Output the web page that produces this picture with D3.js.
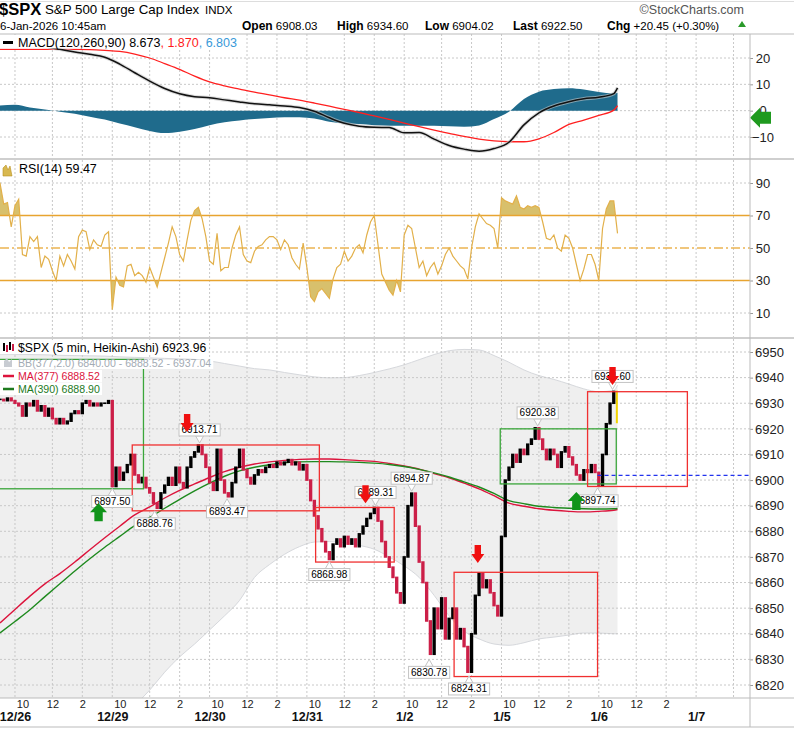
<!DOCTYPE html>
<html><head><meta charset="utf-8">
<title>$SPX 5 min</title>
<script src="https://d3js.org/d3.v7.min.js"></script>
<style>
  body { margin: 0; background: #fff; }
  svg text { font-family: "Liberation Sans", Arial, sans-serif; }
</style>
</head>
<body>
<svg id="chart" width="794" height="729"></svg>
<script>
// ---- time axis ----
const dayLabels = ["12/26", "12/29", "12/30", "12/31", "1/2", "1/5", "1/6", "1/7"];
const hourTicks = [{label: "10", bar: 6}, {label: "12", bar: 30}, {label: "2", bar: 54}];
const firstDayBar = 12, barsPerDay = 78, lastBar = 495;

// Heikin-Ashi closes, one every 15 minutes (3 bars)
const candleBars = d3.range(-3, lastBar + 1, 3);
const haClose = [6931.5,
  6931.5, 6931, 6932, 6931, 6930, 6929, 6925, 6930, 6929, 6931,
  6927, 6929, 6925, 6928, 6924, 6922, 6924, 6922, 6923, 6926,
  6927, 6926, 6930, 6931, 6929, 6930, 6929, 6930, 6930, 6931,
  6897.5, 6905, 6900, 6903, 6906, 6910, 6902, 6899, 6901, 6897,
  6895, 6891, 6889, 6895, 6898, 6901, 6898, 6905, 6899, 6897,
  6905, 6909, 6911, 6913.7, 6910, 6905, 6899, 6896, 6912, 6900,
  6895, 6893.5, 6899, 6905, 6912, 6904, 6901, 6898.5, 6902, 6904,
  6903, 6905, 6906, 6905, 6907, 6906, 6907, 6908, 6906, 6907,
  6904, 6906, 6900, 6892, 6886,
  6881, 6876, 6872, 6869,
  6875, 6877, 6874, 6878, 6875, 6877, 6874, 6879, 6882, 6885,
  6887, 6889.3, 6884, 6876, 6870, 6866, 6862, 6856, 6852, 6870,
  6890, 6894.9, 6882, 6868, 6860, 6845, 6832, 6850, 6842, 6854,
  6838, 6846, 6850, 6838, 6842, 6835, 6825, 6840, 6855, 6863.7,
  6858, 6861, 6856, 6851, 6847, 6878, 6900, 6905, 6910, 6907,
  6912, 6910, 6914, 6916, 6920.4, 6916, 6912, 6908, 6912, 6910,
  6905, 6911, 6913, 6909, 6906, 6902, 6900, 6904, 6903, 6906,
  6903, 6898, 6910, 6922, 6930, 6934.6, 6922.5];

const rsi14 = [90,
  90, 77, 78, 63, 76, 80, 46, 45, 57, 54,
  57, 38, 45, 43, 36, 30, 45, 39, 46, 42,
  37, 57, 61, 60, 49, 55, 52, 51, 58, 60,
  12, 32, 27, 26, 39, 40, 33, 35, 33, 29,
  38, 32, 26, 35, 44, 53, 63, 57, 46, 42,
  55, 67, 73, 75, 68, 57, 42, 40, 59, 36,
  38, 38, 50, 58, 63, 46, 42, 41, 48, 51,
  52, 55, 57, 57, 55, 49, 55, 52, 44, 40,
  37, 53, 38, 20, 17,
  23, 25, 22, 19,
  31, 38, 40, 48, 42, 45, 50, 52, 47, 58,
  66, 70, 52, 34, 29, 24, 21, 30, 23, 58,
  64, 62, 50, 38, 42, 33, 38, 41, 34, 39,
  46, 50, 45, 42, 39, 37, 31, 50, 63, 71,
  68, 65, 64, 62, 50, 81, 79, 78, 77, 82,
  75, 74, 76, 75, 76, 75, 66, 56, 55, 58,
  50, 48, 58, 56, 50, 40, 30, 37, 46, 46,
  40, 30, 62, 74, 79, 79, 59];

// smooth series, one per hour plus the last bar
const lineBars = d3.range(0, 493, 12).concat([lastBar]);
const macdLine = [26.8, 26, 25.2, 24.3, 23.3, 22.3, 21.4, 20.3, 17.7, 14.4, 11.2, 8.4, 6.4, 5.3, 4.9,
  4.1, 3.3, 2.6, 2.2, 1.8, 1.2, -0.2, -2.7, -4.8, -5.9, -6.3, -6.4, -8.4, -8.3, -10.8, -13.2, -14.6,
  -15.4, -14.4, -12.0, -5.4, -0.8, 1.8, 3.4, 4.5, 5.1, 6.5, 8.673];
const macdSignal = [23.3, 23.3, 23.3, 23.3, 23.3, 23.3, 23.2, 22.9, 22.5, 21.5, 20.0, 17.9, 15.7, 13.1,
  10.9, 9.4, 8.2, 7.0, 6.0, 4.9, 4.0, 2.9, 1.7, 0.5, -0.7, -2.0, -3.3, -4.7, -6.1, -7.4, -8.6, -9.8,
  -10.8, -11.5, -11.8, -11.8, -10.7, -8.3, -5.2, -3.6, -1.8, 0.2, 1.870];
const macdHist = [2.0, 2.2, 1.2, 0.4, -0.4, -1.2, -2.3, -3.4, -4.9, -6.3, -7.7, -8.5, -8.0, -7.0, -5.5,
  -4.4, -3.7, -3.2, -2.8, -2.5, -2.5, -3.0, -4.2, -4.8, -5.1, -5.5, -5.7, -5.7, -5.7, -5.7, -5.9, -6.1,
  -5.6, -3.2, -0.4, 4.4, 7.2, 8.2, 8.5, 8.0, 7.1, 6.6, 6.803];
const bbUpper = [6949.2, 6949.1, 6949, 6948.9, 6948.7, 6948.6, 6948.5, 6948.4, 6948.1, 6947.9, 6947.7,
  6947.5, 6947.3, 6947.1, 6946.5, 6945.5, 6944.5, 6943.5, 6943, 6942, 6941.1, 6940.3, 6939.9, 6940,
  6940.8, 6942, 6943.4, 6945, 6947, 6949, 6950.5, 6951, 6950.8, 6948.6, 6946, 6943, 6940.8, 6939.3,
  6937.5, 6935.6, 6934.5, 6935, 6937.04];
const bbLower = [6745, 6752, 6760, 6768, 6776, 6784, 6792, 6800, 6806, 6812, 6818, 6825, 6831, 6836,
  6841.5, 6847, 6853, 6862, 6867, 6871, 6874, 6875.8, 6876, 6875.5, 6874.5, 6873, 6870, 6866.5, 6862,
  6855, 6847, 6841, 6838, 6836, 6835.5, 6836.5, 6838, 6838.7, 6839.5, 6840.3, 6840.3, 6840, 6840.00];
const ma377 = [6844.2, 6849.5, 6854.7, 6859.5, 6863.5, 6868, 6872.8, 6877.5, 6882, 6886.4, 6889.5, 6893,
  6896, 6898.5, 6901, 6903.3, 6905, 6906.3, 6907.1, 6907.7, 6908.1, 6908.2, 6908.2, 6908, 6907.6,
  6907.3, 6906.5, 6905.5, 6904.3, 6902.5, 6900.9, 6898.8, 6896.6, 6893.9, 6891, 6889.8, 6888.8, 6888.2,
  6887.8, 6887.6, 6887.8, 6888.2, 6888.52];
const ma390 = [6840.3, 6844.8, 6849.4, 6854.5, 6859.5, 6864.5, 6869.3, 6873.8, 6878, 6882.2, 6885.4,
  6889, 6892.5, 6895.8, 6898.8, 6901.5, 6903.6, 6905, 6906, 6906.7, 6907.1, 6907.2, 6907.2, 6907.1,
  6906.9, 6906.6, 6906.1, 6905.3, 6904.2, 6902.8, 6901.2, 6899.3, 6897.3, 6894.8, 6892, 6890.8, 6889.8,
  6889.3, 6889, 6888.8, 6888.7, 6888.8, 6888.90];

// annotations
const priceNotes = [
  {bar: 90, price: 6897.50, pos: "below"}, {bar: 124, price: 6888.76, pos: "below"},
  {bar: 160, price: 6913.71, pos: "above"}, {bar: 182, price: 6893.47, pos: "below"},
  {bar: 264, price: 6868.98, pos: "below"}, {bar: 301, price: 6889.31, pos: "above"},
  {bar: 330, price: 6894.87, pos: "above"}, {bar: 344, price: 6830.78, pos: "below"},
  {bar: 376, price: 6824.31, pos: "below"}, {bar: 431, price: 6920.38, pos: "above"},
  {bar: 479, price: 6897.74, pos: "below"}, {bar: 491, price: 6934.60, pos: "above"}];
const boxes = [
  {from: -20, to: 115, top: 6947.1, bottom: 6896.6, color: "#3aa63a"},
  {from: 106, to: 256, top: 6913.7, bottom: 6888.0, color: "#f03030"},
  {from: 253, to: 316, top: 6889.3, bottom: 6868.0, color: "#f03030"},
  {from: 364, to: 479, top: 6864.0, bottom: 6823.3, color: "#f03030"},
  {from: 401, to: 494, top: 6920.0, bottom: 6898.5, color: "#3aa63a"},
  {from: 471, to: 551, top: 6934.5, bottom: 6897.5, color: "#f03030"}];
const arrows = [
  {bar: 150, price: 6918.8, dir: "down"}, {bar: 293, price: 6891.0, dir: "down"},
  {bar: 383, price: 6867.6, dir: "down"}, {bar: 491, price: 6937.1, dir: "down"},
  {bar: 79, price: 6891.0, dir: "up"}, {bar: 462, price: 6895.3, dir: "up"}];
const lastLine = {from: 479, price: 6901.8};
const macdMarker = -2.7;

const quote = [{k: "Open", v: "6908.03", x: 242}, {k: "High", v: "6934.60", x: 337},
  {k: "Low", v: "6904.02", x: 425}, {k: "Last", v: "6922.50", x: 513}, {k: "Chg", v: "+20.45 (+0.30%)", x: 607}];

// ---- layout ----
const svg = d3.select("#chart");
const plotRight = 750;
const pMacd = {top: 34, bottom: 158}, pRsi = {top: 160, bottom: 337}, pMain = {top: 339, bottom: 698};

const x = d3.scaleLinear().domain([0, 601.2]).range([0, plotRight]);
const yMacd = d3.scaleLinear().domain([-10, 20]).range([137, 58]);
const yRsi = d3.scaleLinear().domain([10, 90]).range([313, 183]);
const yPrice = d3.scaleLinear().domain([6820, 6950]).range([685, 352]);

const defs = svg.append("defs");
function clip(id, y0, y1) {
  defs.append("clipPath").attr("id", id).append("rect")
    .attr("x", 0).attr("y", y0).attr("width", plotRight).attr("height", y1 - y0);
}
clip("c-macd", pMacd.top, pMacd.bottom);
clip("c-rsi", pRsi.top, pRsi.bottom);
clip("c-main", pMain.top, pMain.bottom);
clip("c-over", pRsi.top, yRsi(70));
clip("c-under", yRsi(30), pRsi.bottom);

// vertical grid positions
const gridBars = [];
dayLabels.forEach((d, i) => {
  const s = firstDayBar + barsPerDay * i;
  [0, 30, 54].forEach(o => { if (x(s + o) < plotRight) gridBars.push(s + o); });
});

function grid(panel, yTicks, yScale) {
  const g = svg.append("g").attr("stroke", "#c8c8c8").attr("stroke-dasharray", "2,2");
  g.selectAll("line.v").data(gridBars).join("line").attr("class", "v")
    .attr("x1", d => x(d)).attr("x2", d => x(d)).attr("y1", panel.top).attr("y2", panel.bottom);
  g.selectAll("line.h").data(yTicks).join("line").attr("class", "h")
    .attr("x1", 0).attr("x2", plotRight).attr("y1", d => yScale(d)).attr("y2", d => yScale(d));
}

function yAxis(scale, ticks, middle) {
  const g = svg.append("g").attr("transform", `translate(${plotRight},0)`)
    .call(d3.axisRight(scale).tickValues(ticks).tickFormat(d3.format("d")).tickSize(3).tickPadding(2));
  g.select(".domain").remove();
  g.attr("font-family", "Liberation Sans, Arial, sans-serif").attr("font-size", 13);
  g.selectAll(".tick line").attr("stroke", "#999");
  g.selectAll(".tick text").attr("fill", "#222");
  if (middle) g.selectAll(".tick text").attr("text-anchor", "middle").attr("x", 13);
}

// ---- header ----
svg.append("line").attr("x1", 0).attr("x2", 794).attr("y1", 1.5).attr("y2", 1.5).attr("stroke", "#ddd");
svg.append("text").attr("x", -1).attr("y", 14.5).attr("font-size", 16.5).attr("font-weight", "bold").text("$SPX");
svg.append("text").attr("x", 45).attr("y", 14).attr("font-size", 13.3).text("S&P 500 Large Cap Index");
svg.append("text").attr("x", 205).attr("y", 14).attr("font-size", 11.5).text("INDX");
svg.append("text").attr("x", 744).attr("y", 14).attr("text-anchor", "end").attr("font-size", 12.5)
  .attr("font-family", "DejaVu Sans").attr("fill", "#555").text("©StockCharts.com");
svg.append("text").attr("x", 0).attr("y", 30).attr("font-size", 11.5).attr("font-family", "DejaVu Sans")
  .text("6-Jan-2026 10:45am");
quote.forEach(q => {
  const t = svg.append("text").attr("x", q.x).attr("y", 30).attr("font-family", "DejaVu Sans").attr("font-size", 11.5);
  t.append("tspan").attr("font-weight", "bold").attr("font-size", 12).text(q.k);
  t.append("tspan").text(" " + q.v);
});
svg.append("path").attr("d", "M738,27L742,21L746,27Z").attr("fill", "#2a9a2a");

// ---- MACD panel ----
grid(pMacd, [-10, 0, 10, 20], yMacd);
const gm = svg.append("g").attr("clip-path", "url(#c-macd)");
const macdPts = lineBars.map((b, i) => ({b, m: macdLine[i], s: macdSignal[i], h: macdHist[i]}));
gm.append("path").datum(macdPts).attr("fill", "#1f6b8c")
  .attr("d", d3.area().x(d => x(d.b)).y0(yMacd(0)).y1(d => yMacd(d.h)).curve(d3.curveMonotoneX));
gm.append("path").datum(macdPts).attr("fill", "none").attr("stroke", "#ff2020").attr("stroke-width", 1.3)
  .attr("d", d3.line().x(d => x(d.b)).y(d => yMacd(d.s)).curve(d3.curveMonotoneX));
const macdPath = d3.line().x(d => x(d.b)).y(d => yMacd(d.m)).curve(d3.curveMonotoneX);
gm.append("path").datum(macdPts).attr("fill", "none").attr("stroke", "#c4c4c4").attr("stroke-opacity", 0.6)
  .attr("stroke-width", 3.6).attr("d", macdPath);
gm.append("path").datum(macdPts).attr("fill", "none").attr("stroke", "#111").attr("stroke-width", 1.5)
  .attr("d", macdPath);
yAxis(yMacd, [-10, 0, 10, 20], true);
{
  const my = yMacd(macdMarker);
  svg.append("path").attr("fill", "#1f9a1f")
    .attr("d", `M750,${my}L760,${my - 10}V${my - 6}H771V${my + 6}H760V${my + 10}Z`);
}
{
  const t = svg.append("text").attr("x", 18).attr("y", 46.5).attr("font-family", "DejaVu Sans Mono").attr("font-size", 12.5);
  t.append("tspan").attr("fill", "#000").text("MACD(120,260,90) 8.673");
  t.append("tspan").attr("fill", "#ff1a1a").text(", 1.870");
  t.append("tspan").attr("fill", "#3a9ad9").text(", 6.803");
  const bb = t.node().getBBox();
  svg.insert("rect", () => t.node()).attr("x", 0).attr("y", 35).attr("width", bb.x + bb.width + 3)
    .attr("height", 13.5).attr("fill", "#fff");
  svg.append("line").attr("x1", 3).attr("x2", 13).attr("y1", 42.5).attr("y2", 42.5).attr("stroke", "#000").attr("stroke-width", 3);
}

// ---- RSI panel ----
grid(pRsi, [10, 90], yRsi);
const gr = svg.append("g").attr("clip-path", "url(#c-rsi)");
const rsiPts = candleBars.map((b, i) => ({b, v: rsi14[i]}));
gr.append("g").attr("clip-path", "url(#c-over)").append("path").datum(rsiPts).attr("fill", "#d8c06c")
  .attr("d", d3.area().x(d => x(d.b)).y0(yRsi(70)).y1(d => yRsi(d.v)));
gr.append("g").attr("clip-path", "url(#c-under)").append("path").datum(rsiPts).attr("fill", "#d8c06c")
  .attr("d", d3.area().x(d => x(d.b)).y0(yRsi(30)).y1(d => yRsi(d.v)));
[70, 30].forEach(v => gr.append("line").attr("x1", 0).attr("x2", plotRight)
  .attr("y1", yRsi(v)).attr("y2", yRsi(v)).attr("stroke", "#e8a430").attr("stroke-width", 1.6));
gr.append("line").attr("x1", 0).attr("x2", plotRight).attr("y1", yRsi(50)).attr("y2", yRsi(50))
  .attr("stroke", "#ecb452").attr("stroke-width", 1.4).attr("stroke-dasharray", "9,3,2,3");
gr.append("path").datum(rsiPts).attr("fill", "none").attr("stroke", "#e2b04a").attr("stroke-width", 1.2)
  .attr("d", d3.line().x(d => x(d.b)).y(d => yRsi(d.v)));
yAxis(yRsi, [10, 30, 50, 70, 90], true);
svg.append("path").attr("d", "M3,176L3,168L6,165L8,170L10,166L12,176Z").attr("fill", "#d8b850").attr("stroke", "#b89020").attr("stroke-width", 0.6);
svg.append("text").attr("x", 19).attr("y", 172.5).attr("font-family", "DejaVu Sans Mono").attr("font-size", 12.5).text("RSI(14) 59.47");

// ---- price panel ----
const gp = svg.append("g").attr("clip-path", "url(#c-main)");
const bandPts = lineBars.map((b, i) => ({b, u: bbUpper[i], l: bbLower[i], a: ma377[i], g: ma390[i]}));
gp.append("path").datum(bandPts).attr("fill", "#efefef")
  .attr("d", d3.area().x(d => x(d.b)).y0(d => yPrice(d.l)).y1(d => yPrice(d.u)).curve(d3.curveMonotoneX));
["u", "l"].forEach(k => gp.append("path").datum(bandPts).attr("fill", "none").attr("stroke", "#d6d8dc")
  .attr("d", d3.line().x(d => x(d.b)).y(d => yPrice(d[k])).curve(d3.curveMonotoneX)));
grid(pMain, d3.range(6820, 6951, 10), yPrice);
const gp2 = svg.append("g").attr("clip-path", "url(#c-main)");
gp2.append("path").datum(bandPts).attr("fill", "none").attr("stroke", "#dc143c").attr("stroke-width", 1.4)
  .attr("d", d3.line().x(d => x(d.b)).y(d => yPrice(d.a)).curve(d3.curveMonotoneX));
gp2.append("path").datum(bandPts).attr("fill", "none").attr("stroke", "#1e8a1e").attr("stroke-width", 1.4)
  .attr("d", d3.line().x(d => x(d.b)).y(d => yPrice(d.g)).curve(d3.curveMonotoneX));

const step = x(3) - x(0);
const candles = candleBars.map((b, i) => ({b, o: haClose[Math.max(0, i - 1)], c: haClose[i], last: i === candleBars.length - 1}));
gp2.selectAll("rect.c").data(candles).join("rect").attr("class", "c")
  .attr("x", d => x(d.b) - step / 2 + 0.2).attr("width", d => d.last ? 2 : step - 0.4)
  .attr("y", d => yPrice(Math.max(d.o, d.c)) - 0.8)
  .attr("height", d => Math.abs(yPrice(d.o) - yPrice(d.c)) + 1.6)
  .attr("fill", d => d.last ? "#f2d400" : (d.c >= d.o ? "#000" : "#cc1f48"));

gp2.selectAll("rect.box").data(boxes).join("rect").attr("class", "box")
  .attr("x", d => x(d.from)).attr("width", d => x(d.to) - x(d.from))
  .attr("y", d => yPrice(d.top)).attr("height", d => yPrice(d.bottom) - yPrice(d.top))
  .attr("fill", "none").attr("stroke", d => d.color).attr("stroke-width", 1.3);
gp2.append("line").attr("x1", x(lastLine.from)).attr("x2", plotRight)
  .attr("y1", yPrice(lastLine.price)).attr("y2", yPrice(lastLine.price))
  .attr("stroke", "#2233ee").attr("stroke-width", 1.3).attr("stroke-dasharray", "4,3");

// value notes
priceNotes.forEach(d => {
  const px = x(d.bar), py = yPrice(d.price);
  const g = gp2.append("g");
  const up = d.pos === "above";
  const base = up ? py - 9 : py + 9, tip = up ? py - 2 : py + 2;
  const t = g.append("text").attr("x", px).attr("text-anchor", "middle")
    .attr("y", up ? base - 2.5 : base + 9.5).attr("font-family", "DejaVu Sans").attr("font-size", 10)
    .text(d.price.toFixed(2));
  const w = t.node().getComputedTextLength() + 5;
  g.insert("path", "text").attr("d", `M${px - 4},${base}L${px},${tip}L${px + 4},${base}Z`)
    .attr("fill", "#fff").attr("stroke", "#c4c4c4");
  g.insert("rect", "text").attr("x", px - w / 2).attr("width", w)
    .attr("y", up ? base - 12 : base).attr("height", 12).attr("fill", "#fff").attr("stroke", "#c4c4c4");
});

// arrows
arrows.forEach(d => {
  const cx = x(d.bar), t = yPrice(d.price);
  let p;
  if (d.dir === "down") {
    p = `M${cx - 3.2},${t - 18}H${cx + 3.2}V${t - 9}H${cx + 6.5}L${cx},${t}L${cx - 6.5},${t - 9}H${cx - 3.2}Z`;
  } else {
    p = `M${cx - 4.2},${t + 18}H${cx + 4.2}V${t + 9}H${cx + 8.5}L${cx},${t}L${cx - 8.5},${t + 9}H${cx - 4.2}Z`;
  }
  gp2.append("path").attr("d", p).attr("fill", d.dir === "down" ? "#f01010" : "#10941a");
});
yAxis(yPrice, d3.range(6820, 6951, 10), false);

// price legend
function legendRow(y, parts, font, size, bgTop, bgH) {
  const t = svg.append("text").attr("x", 18).attr("y", y).attr("font-family", font).attr("font-size", size);
  parts.forEach(p => t.append("tspan").attr("fill", p.c).text(p.t));
  const bb = t.node().getBBox();
  svg.insert("rect", () => t.node()).attr("x", 0).attr("y", bgTop).attr("width", bb.x + bb.width + 2)
    .attr("height", bgH).attr("fill", "#fff");
}
legendRow(351.5, [{t: "$SPX (5 min, Heikin-Ashi) 6923.96", c: "#000"}], "DejaVu Sans Mono", 12.2, 340, 14);
legendRow(366.5, [{t: "BB(377,2.0) 6840.00 - 6888.52 - 6937.04", c: "#a3abb4"}], "DejaVu Sans", 10.6, 360, 9);
legendRow(379.5, [{t: "MA(377) 6888.52", c: "#dc143c"}], "DejaVu Sans", 10.6, 370, 12.5);
legendRow(392.5, [{t: "MA(390) 6888.90", c: "#1e7a1e"}], "DejaVu Sans", 10.6, 383, 12);
svg.append("path").attr("d", "M4,367V361L7,358L9,362L12,359V367Z").attr("fill", "#c8ccd2");
svg.append("line").attr("x1", 3).attr("x2", 14).attr("y1", 376).attr("y2", 376).attr("stroke", "#dc143c").attr("stroke-width", 2.5);
svg.append("line").attr("x1", 3).attr("x2", 14).attr("y1", 389).attr("y2", 389).attr("stroke", "#1e7a1e").attr("stroke-width", 2.5);
[[4, 343, 351], [7, 345, 352], [10, 342, 350], [13, 344, 351]].forEach(([cx, a, b], i) =>
  svg.append("line").attr("x1", cx).attr("x2", cx).attr("y1", a).attr("y2", b)
    .attr("stroke", i % 2 ? "#cc1f48" : "#000").attr("stroke-width", 2));

// ---- panel frames ----
[[34, 1, "#bbb"], [159, 2, "#cfcfcf"], [338, 2, "#cfcfcf"], [698, 1, "#bbb"], [727, 1, "#bbb"]].forEach(([y, w, c]) =>
  svg.append("line").attr("x1", 0).attr("x2", 794).attr("y1", y).attr("y2", y).attr("stroke", c).attr("stroke-width", w));
svg.append("line").attr("x1", plotRight).attr("x2", plotRight).attr("y1", 34).attr("y2", 727).attr("stroke", "#bbb");

// ---- time axis ----
const hourBars = [];
dayLabels.slice(0, 7).forEach((d, i) => hourTicks.forEach(h => hourBars.push(firstDayBar + barsPerDay * i + h.bar)));
const hourAxis = svg.append("g").attr("transform", "translate(0,698.5)")
  .call(d3.axisBottom(x).tickValues(hourBars).tickSize(0).tickPadding(2)
    .tickFormat(b => hourTicks.find(h => h.bar === (b - firstDayBar) % barsPerDay).label));
hourAxis.select(".domain").remove();
hourAxis.attr("font-family", "Liberation Sans, Arial, sans-serif").attr("font-size", 11);
hourAxis.selectAll("text").attr("fill", "#222");

const dayBars = dayLabels.map((d, i) => firstDayBar + barsPerDay * i);
const dayAxis = svg.append("g").attr("transform", "translate(0,711.5)")
  .call(d3.axisBottom(x).tickValues(dayBars).tickSize(0).tickPadding(1)
    .tickFormat((b, i) => dayLabels[i]));
dayAxis.select(".domain").remove();
dayAxis.attr("font-family", "Liberation Sans, Arial, sans-serif").attr("font-size", 12.5).attr("font-weight", "bold");
dayAxis.selectAll("text").attr("fill", "#111");
</script>
</body>
</html>
